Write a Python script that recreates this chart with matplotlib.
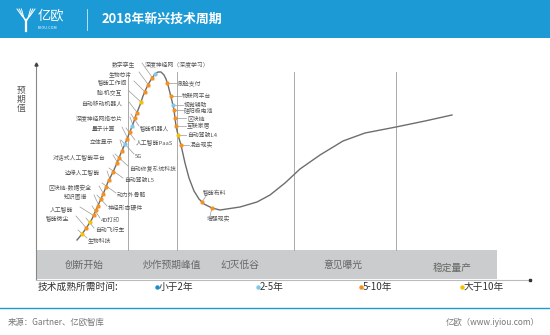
import matplotlib.pyplot as plt
from matplotlib.patches import Rectangle
from matplotlib.lines import Line2D

plt.rcParams['font.family'] = ['Noto Sans CJK SC', 'DejaVu Sans']

# hype curve: time vs expectation
curve_t = [41, 46, 51, 56, 60, 64, 68, 72, 77, 81, 85, 89, 93, 97, 100, 104, 107, 110, 113, 116,
           119, 122, 125, 128, 130, 132, 134, 136, 138, 139, 140, 142, 145, 149, 153, 158, 163, 168, 176, 184,
           204, 221, 234, 249, 264, 284, 307, 329, 360, 389, 416]
curve_e = [41, 47, 54, 62, 71, 80, 89, 99, 109, 118, 128, 137, 147, 157, 166, 176, 185, 192, 198, 203,
           207, 209, 209, 206, 202, 196, 188, 180, 171, 163, 155, 146, 136, 118, 103, 90, 82, 77, 73, 71,
           74, 79, 86, 98, 112, 126, 140, 148, 154, 160, 166]

# maturity categories: 0 <2y, 1 2-5y, 2 5-10y, 3 >10y
cat_names = ['小于2年', '2-5年', '5-10年', '大于10年']
cat_colors = ['#1A8ED0', '#7FC8E8', '#F7901E', '#F6C200']

# rising slope, labels on the left
left_names = ['数字孪生', '生物芯片', '智能工作间', '脑-机交互', '自动移动机器人', '深度神经网络芯片',
              '量子计算', '立体显示', '对话式人工智能平台', '边缘人工智能', '区块链-数据安全',
              '知识图谱', '人工智能', '智能微尘']
left_t = [116, 112, 109, 105, 101, 96, 91, 86, 81, 73, 67, 62, 58, 50]
left_e = [203, 196, 189, 179, 168, 155, 142, 130, 118, 101, 87, 75, 66, 53]
left_cat = [2, 2, 2, 3, 2, 1, 2, 2, 2, 2, 2, 2, 2, 2]
left_lx = [99, 96, 91, 86, 86, 87, 79, 77, 70, 64, 56, 51, 37, 33]
left_ly = [216, 207, 198, 188, 177, 162, 152, 139, 124, 108, 93, 84, 72, 63]

# rising slope, labels on the right
right_names = ['生物科技', '自动飞行车', '4D打印', '神经形态硬件', '动力外骨骼', '自动驾驶L5',
               '自动修复系统科技', '5G', '人工智能PaaS', '智能机器人']
right_t = [46, 54, 60, 65, 70, 77, 83, 89, 94, 99]
right_e = [47, 59, 71, 82, 94, 109, 123, 137, 149, 163]
right_cat = [3, 3, 2, 2, 2, 2, 2, 1, 2, 2]
right_lx = [52, 59, 65, 72, 81, 88, 93, 99, 100, 104]
right_ly = [41, 51, 61, 73, 86, 101, 113, 125, 139, 153]

# falling slope
fall_names = ['刷脸支付', '物联网平台', '视觉辅助', '硅阳极电池', '区块链', '互联家居', '自动驾驶L4', '混合现实']
fall_t = [131, 135, 137, 138, 139, 140, 142, 145]
fall_e = [198, 185, 176, 171, 163, 155, 146, 136]
fall_cat = [2, 2, 1, 2, 2, 2, 3, 2]
fall_lx = [142, 146, 148, 148, 151, 151, 151, 154]

# peak and trough
peak_name, peak_t, peak_e, peak_cat = '深度神经网（深度学习）', 119, 207, 1
trough_names = ['智能布料', '增强现实']
trough_t = [166, 176]
trough_e = [79, 73]
trough_cat = [2, 2]
trough_lx = [167, 171]
trough_ly = [88, 62]

phases = ['创新开始', '炒作预期峰值', '幻灭低谷', '意见曝光', '稳定量产']
phase_x = [48, 136, 204, 307, 416]
phase_y = [16, 16, 16, 16, 13]
dividers = [92, 141, 258, 360]

W, H = 550, 335
BLUE = '#1B9AD6'


def fx(x):
    return x / W


def fy(y):
    return 1 - y / H


fig = plt.figure(figsize=(5.5, 3.35), dpi=100)

# header
fig.add_artist(Rectangle((0, fy(38)), 1, 38 / H, transform=fig.transFigure, color=BLUE, lw=0))
for d in [0, 2.2, 4.4]:
    fig.add_artist(Line2D([fx(17 + d), fx(22 + d * 0.4), fx(26)], [fy(9), fy(16 + d * 0.3), fy(20 + d * 0.5)],
                          transform=fig.transFigure, color='white', lw=0.7))
    fig.add_artist(Line2D([fx(35 - d), fx(30 - d * 0.4), fx(26)], [fy(9), fy(16 + d * 0.3), fy(20 + d * 0.5)],
                          transform=fig.transFigure, color='white', lw=0.7))
fig.add_artist(Line2D([fx(26), fx(26)], [fy(20), fy(31)], transform=fig.transFigure, color='white', lw=1.6))
fig.text(fx(38), fy(16), '亿欧', color='white', fontsize=9.5, va='center')
fig.text(fx(38), fy(28), 'IYIOU.COM', color='white', fontsize=2.8, va='center')
fig.add_artist(Line2D([fx(87), fx(87)], [fy(9), fy(30)], transform=fig.transFigure, color='white', lw=0.6, alpha=0.8))
fig.text(fx(102), fy(19), '2018年新兴技术周期', color='white', fontsize=9.3, weight='bold', va='center')

# y label
fig.text(fx(21), fy(99), '预\n期\n值', color='#555555', fontsize=6.3, ha='center', va='center', linespacing=1.0)

# chart area
ax = fig.add_axes([fx(36), 1 - 281 / H, 494 / W, 221 / H])
ax.set_xlim(0, 494)
ax.set_ylim(0, 221)
ax.axis('off')

ax.add_patch(Rectangle((0, 2), 461, 29, color='#CACCCD', lw=0, clip_on=False))
ax.plot([0, 494], [1.5, 1.5], color='#BBBBBB', lw=0.8, clip_on=False)
ax.plot([494], [1.5], marker='s', ms=1.5, color='#333333', clip_on=False)
ax.plot([0, 0], [2, 217], color='#888888', lw=0.8, clip_on=False)
ax.plot([0], [217], marker='^', ms=2.2, color='#444444', clip_on=False)
for x in dividers:
    ax.plot([x, x], [31, 209], color='#AAAAAA', lw=0.7)

for name, x, y in zip(phases, phase_x, phase_y):
    ax.text(x, y, name, ha='center', va='center', fontsize=7, color='#666666')

ax.plot(curve_t, curve_e, color='#6E6E6E', lw=1.0, zorder=3)

fs = 4.2
tc = '#555555'
lc = '#999999'

for n, t, e, c, lx, ly in zip(left_names, left_t, left_e, left_cat, left_lx, left_ly):
    ax.plot([lx + 7, t + 2], [ly + 2, e - 2], color=lc, lw=0.5, zorder=2)
    ax.plot(t, e, 'o', ms=3, color=cat_colors[c], mec='none', zorder=4)
    ax.text(lx, ly, n, ha='right', va='center', fontsize=fs, color=tc)

for n, t, e, c, lx, ly in zip(right_names, right_t, right_e, right_cat, right_lx, right_ly):
    ax.plot([t - 4, lx - 1], [e + 4, ly + 2], color=lc, lw=0.5, zorder=2)
    ax.plot(t, e, 'o', ms=3, color=cat_colors[c], mec='none', zorder=4)
    ax.text(lx, ly, n, ha='left', va='center', fontsize=fs, color=tc)

for n, t, e, c, lx in zip(fall_names, fall_t, fall_e, fall_cat, fall_lx):
    ax.plot([t, lx - 1], [e, e], color=lc, lw=0.5, zorder=2)
    ax.plot(t, e, 'o', ms=3, color=cat_colors[c], mec='none', zorder=4)
    ax.text(lx, e, n, ha='left', va='center', fontsize=fs, color=tc)

ax.plot(peak_t, peak_e, 'o', ms=3, color=cat_colors[peak_cat], mec='none', zorder=4)
ax.text(109, 217, peak_name, ha='left', va='center', fontsize=fs, color=tc)

for n, t, e, c, lx, ly in zip(trough_names, trough_t, trough_e, trough_cat, trough_lx, trough_ly):
    ax.plot([t, lx + 3], [e, ly + (-3 if ly > e else 3)], color=lc, lw=0.5, zorder=2)
    ax.plot(t, e, 'o', ms=3, color=cat_colors[c], mec='none', zorder=4)
    ax.text(lx, ly, n, ha='left', va='center', fontsize=fs, color=tc)

# legend row
fig.text(fx(38), fy(287), '技术成熟所需时间:', fontsize=7, color='#333333', va='center')
for name, col, x in zip(cat_names, cat_colors, [157, 258, 361, 462]):
    fig.add_artist(Line2D([fx(x)], [fy(287)], marker='o', ms=3.2, color=col, mec='none', transform=fig.transFigure))
    fig.text(fx(x + 2), fy(287), name, fontsize=7, color='#333333', va='center')

# footer
fig.add_artist(Line2D([0, 1], [fy(308), fy(308)], transform=fig.transFigure, color=BLUE, lw=1))
fig.text(fx(8), fy(322), '来源：Gartner、亿欧智库', fontsize=6, color='#777777', va='center')
fig.text(fx(540), fy(322), '亿欧（www.iyiou.com）', fontsize=6, color='#777777', va='center', ha='right')

fig.savefig('out.png', dpi=100)
